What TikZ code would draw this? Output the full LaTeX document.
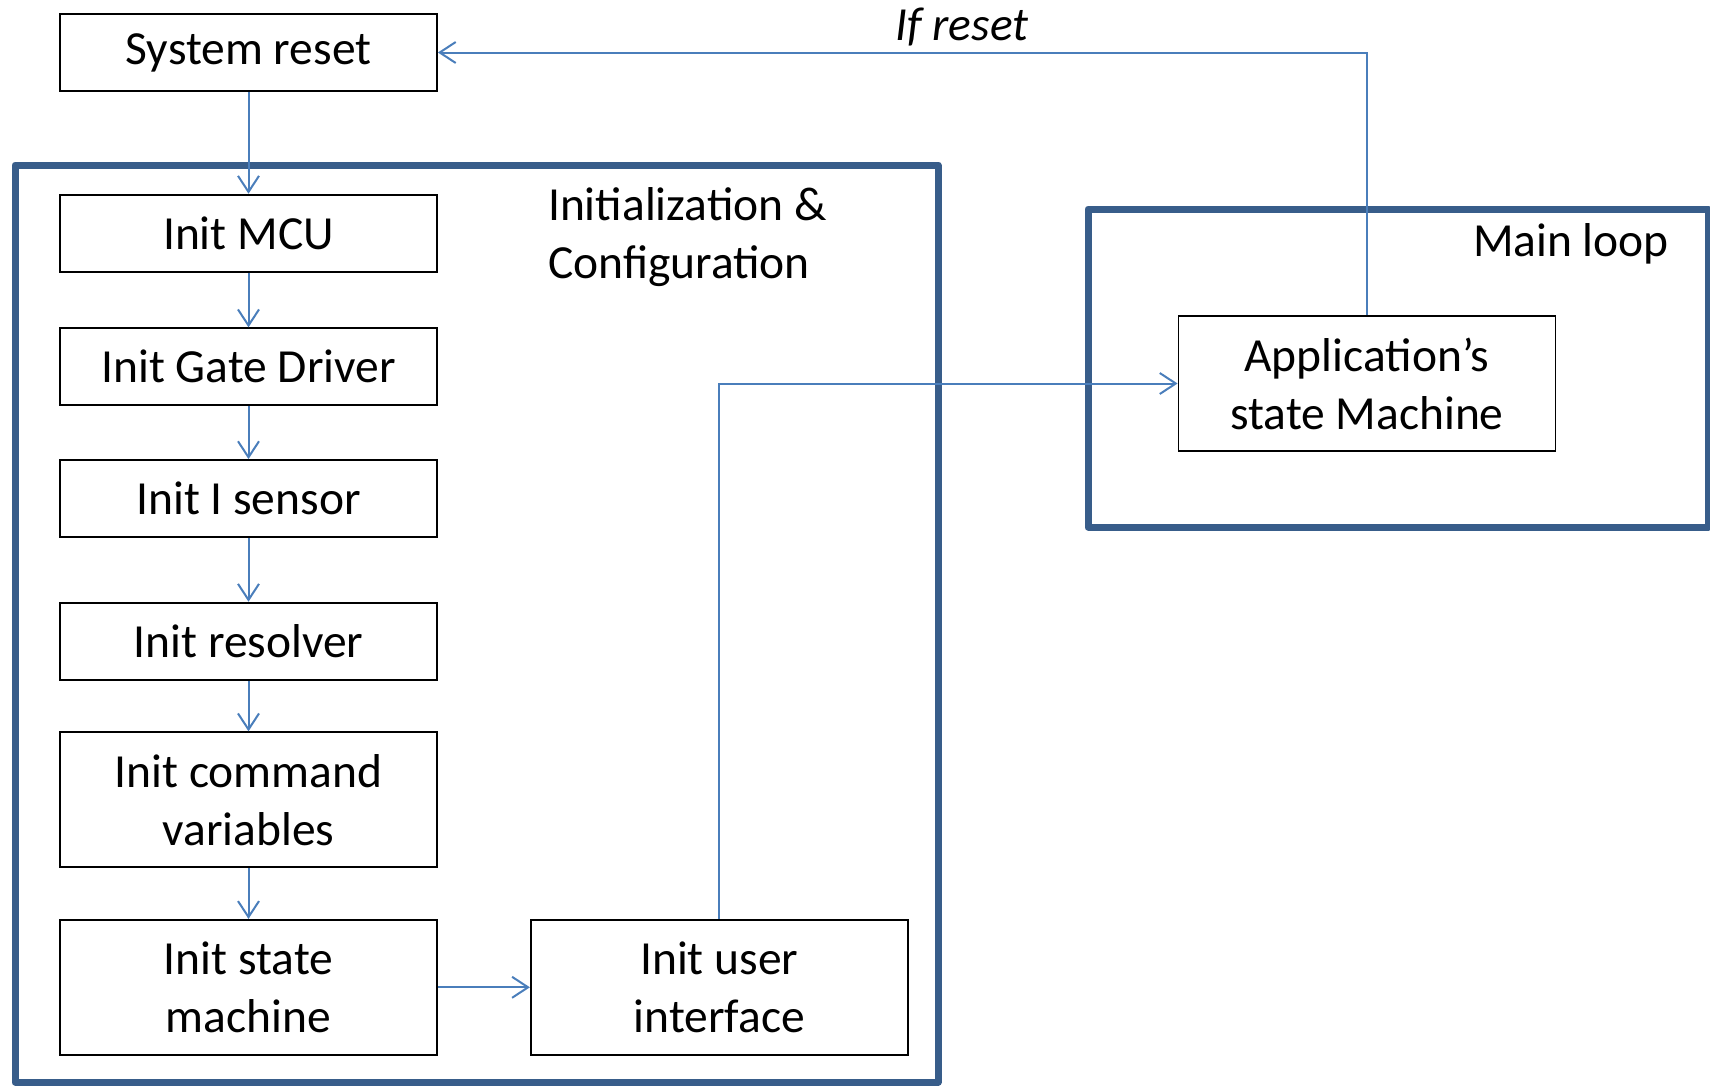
\documentclass[tikz,border=0pt]{standalone}
\usepackage{fontspec}
\setmainfont{Carlito}
\usetikzlibrary{arrows.meta,positioning}
\definecolor{framecol}{RGB}{56,93,138}
\definecolor{linkcol}{RGB}{74,126,187}

\begin{document}
\begin{tikzpicture}[x=0.5pt, y=-0.5pt, node distance=26pt,
    block/.style={rectangle, draw, line width=0.9pt, minimum width=188.5pt, minimum height=38.5pt, align=center, inner sep=2pt, font=\fontsize{23.75}{29}\selectfont},
    tall/.style={block, minimum height=67.5pt},
    link/.style={draw=linkcol, line width=1pt, -{Straight Barb[length=8pt,width=10.5pt]}},
    loopframe/.style={draw=framecol, line width=3.5pt, line join=round}]
    \useasboundingbox (0,0) rectangle (1710,1087);

    % Frames
    \draw[loopframe] (15,165) rectangle (938,1082);
    \draw[loopframe] (1088,209) rectangle (1708,527);

    % Nodes
    \node (sysreset) [block] at (248.5,52.5) {System reset};
    \node (mcu) [block, below=50.9pt of sysreset] {Init MCU};
    \node (gate) [block, below=27.4pt of mcu] {Init Gate Driver};
    \node (isense) [block, below=26.5pt of gate] {Init I sensor};
    \node (resolver) [block, below=31.9pt of isense] {Init resolver};
    \node (cmdvar) [tall, below=25.4pt of resolver] {Init command\\variables};
    \node (initsm) [tall, below=25.4pt of cmdvar] {Init state\\machine};
    \node (ui) [tall, right=46pt of initsm] {Init user\\interface};
    \node (appsm) [tall] at (1367,383.5) {Application’s\\state Machine};

    % Arrows
    \draw[link] (sysreset) -- (mcu);
    \draw[link] (mcu) -- (gate);
    \draw[link] (gate) -- (isense);
    \draw[link] (isense) -- (resolver);
    \draw[link] (resolver) -- (cmdvar);
    \draw[link] (cmdvar) -- (initsm);
    \draw[link] (initsm) -- (ui);
    \draw[link] (ui.north) |- (appsm.west);
    \draw[link] (appsm.north) |- (sysreset.east);

    % Labels
    \node (initlabel) [anchor=north west, align=left, font=\fontsize{23.75}{29}\selectfont] at (541,180) {Initialization \&\\Configuration};
    \node (looplabel) [anchor=east, font=\fontsize{23.75}{29}\selectfont] at (1676,244) {Main loop};
    \node (resetlabel) [font=\fontsize{23.75}{29}\selectfont\itshape] at (962,27) {If reset};
\end{tikzpicture}
\end{document}
